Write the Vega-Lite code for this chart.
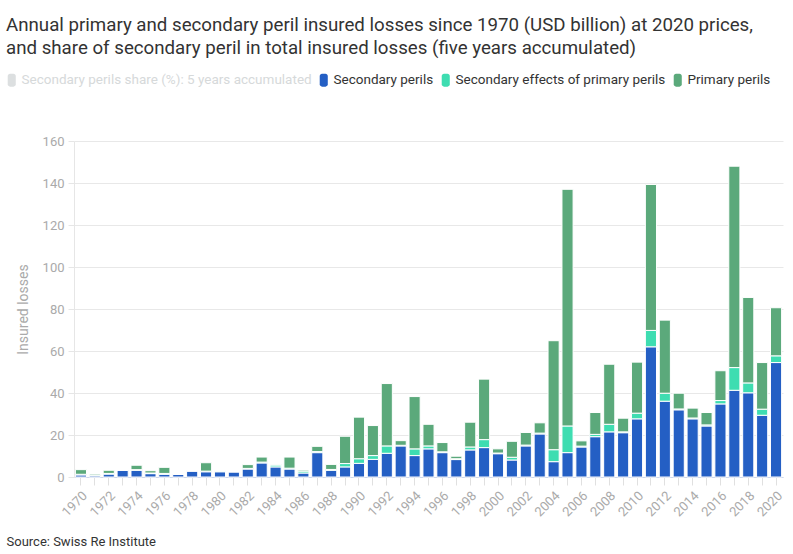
{
  "$schema": "https://vega.github.io/schema/vega-lite/v6.json",
  "width": 709,
  "height": 336,
  "autosize": {"type": "none"},
  "padding": {"left": 74, "top": 141, "right": 10, "bottom": 77},
  "background": "white",
  "title": {
    "text": ["Annual primary and secondary peril insured losses since 1970 (USD billion) at 2020 prices,", "and share of secondary peril in total insured losses (five years accumulated)"],
    "anchor": "start",
    "frame": "group",
    "font": "Roboto",
    "fontSize": 18.7,
    "fontWeight": "normal",
    "color": "#333333",
    "lineHeight": 23.5,
    "dx": -68,
    "offset": 15
  },
  "data": {
    "values": [
      {"year": 1970, "Secondary perils": 1.0, "Secondary effects of primary perils": 0.3, "Primary perils": 2.2},
      {"year": 1971, "Secondary perils": 0.6, "Secondary effects of primary perils": 0.3, "Primary perils": 0.5},
      {"year": 1972, "Secondary perils": 1.4, "Secondary effects of primary perils": 0.3, "Primary perils": 1.5},
      {"year": 1973, "Secondary perils": 3.3, "Secondary effects of primary perils": 0.0, "Primary perils": 0.0},
      {"year": 1974, "Secondary perils": 3.2, "Secondary effects of primary perils": 0.3, "Primary perils": 2.1},
      {"year": 1975, "Secondary perils": 1.6, "Secondary effects of primary perils": 0.3, "Primary perils": 1.1},
      {"year": 1976, "Secondary perils": 1.3, "Secondary effects of primary perils": 0.4, "Primary perils": 2.9},
      {"year": 1977, "Secondary perils": 1.3, "Secondary effects of primary perils": 0.0, "Primary perils": 0.0},
      {"year": 1978, "Secondary perils": 2.9, "Secondary effects of primary perils": 0.0, "Primary perils": 0.0},
      {"year": 1979, "Secondary perils": 2.5, "Secondary effects of primary perils": 0.3, "Primary perils": 4.0},
      {"year": 1980, "Secondary perils": 2.5, "Secondary effects of primary perils": 0.4, "Primary perils": 0.0},
      {"year": 1981, "Secondary perils": 2.5, "Secondary effects of primary perils": 0.0, "Primary perils": 0.0},
      {"year": 1982, "Secondary perils": 3.8, "Secondary effects of primary perils": 0.3, "Primary perils": 1.8},
      {"year": 1983, "Secondary perils": 6.7, "Secondary effects of primary perils": 0.4, "Primary perils": 2.4},
      {"year": 1984, "Secondary perils": 4.8, "Secondary effects of primary perils": 0.9, "Primary perils": 0.3},
      {"year": 1985, "Secondary perils": 3.8, "Secondary effects of primary perils": 0.4, "Primary perils": 5.3},
      {"year": 1986, "Secondary perils": 1.9, "Secondary effects of primary perils": 0.9, "Primary perils": 0.5},
      {"year": 1987, "Secondary perils": 11.6, "Secondary effects of primary perils": 0.5, "Primary perils": 2.5},
      {"year": 1988, "Secondary perils": 3.2, "Secondary effects of primary perils": 0.4, "Primary perils": 2.4},
      {"year": 1989, "Secondary perils": 4.8, "Secondary effects of primary perils": 1.6, "Primary perils": 13.0},
      {"year": 1990, "Secondary perils": 6.5, "Secondary effects of primary perils": 2.2, "Primary perils": 19.8},
      {"year": 1991, "Secondary perils": 8.4, "Secondary effects of primary perils": 1.8, "Primary perils": 14.3},
      {"year": 1992, "Secondary perils": 11.3, "Secondary effects of primary perils": 3.5, "Primary perils": 29.7},
      {"year": 1993, "Secondary perils": 14.8, "Secondary effects of primary perils": 0.3, "Primary perils": 2.2},
      {"year": 1994, "Secondary perils": 10.2, "Secondary effects of primary perils": 3.2, "Primary perils": 24.9},
      {"year": 1995, "Secondary perils": 13.4, "Secondary effects of primary perils": 1.4, "Primary perils": 10.3},
      {"year": 1996, "Secondary perils": 11.6, "Secondary effects of primary perils": 0.4, "Primary perils": 4.4},
      {"year": 1997, "Secondary perils": 8.3, "Secondary effects of primary perils": 0.4, "Primary perils": 1.2},
      {"year": 1998, "Secondary perils": 12.9, "Secondary effects of primary perils": 1.4, "Primary perils": 11.8},
      {"year": 1999, "Secondary perils": 14.0, "Secondary effects of primary perils": 3.8, "Primary perils": 28.8},
      {"year": 2000, "Secondary perils": 11.1, "Secondary effects of primary perils": 0.3, "Primary perils": 2.0},
      {"year": 2001, "Secondary perils": 8.1, "Secondary effects of primary perils": 1.3, "Primary perils": 7.6},
      {"year": 2002, "Secondary perils": 14.8, "Secondary effects of primary perils": 0.4, "Primary perils": 6.0},
      {"year": 2003, "Secondary perils": 20.5, "Secondary effects of primary perils": 0.4, "Primary perils": 4.9},
      {"year": 2004, "Secondary perils": 7.3, "Secondary effects of primary perils": 5.7, "Primary perils": 51.9},
      {"year": 2005, "Secondary perils": 11.6, "Secondary effects of primary perils": 12.7, "Primary perils": 112.7},
      {"year": 2006, "Secondary perils": 14.3, "Secondary effects of primary perils": 0.4, "Primary perils": 2.5},
      {"year": 2007, "Secondary perils": 19.2, "Secondary effects of primary perils": 1.1, "Primary perils": 10.4},
      {"year": 2008, "Secondary perils": 21.5, "Secondary effects of primary perils": 3.6, "Primary perils": 28.6},
      {"year": 2009, "Secondary perils": 21.1, "Secondary effects of primary perils": 0.4, "Primary perils": 6.5},
      {"year": 2010, "Secondary perils": 27.7, "Secondary effects of primary perils": 2.7, "Primary perils": 24.3},
      {"year": 2011, "Secondary perils": 62.0, "Secondary effects of primary perils": 7.8, "Primary perils": 69.5},
      {"year": 2012, "Secondary perils": 36.1, "Secondary effects of primary perils": 3.8, "Primary perils": 34.8},
      {"year": 2013, "Secondary perils": 32.0, "Secondary effects of primary perils": 0.4, "Primary perils": 7.5},
      {"year": 2014, "Secondary perils": 27.7, "Secondary effects of primary perils": 0.4, "Primary perils": 4.7},
      {"year": 2015, "Secondary perils": 24.3, "Secondary effects of primary perils": 0.5, "Primary perils": 5.9},
      {"year": 2016, "Secondary perils": 34.8, "Secondary effects of primary perils": 1.6, "Primary perils": 14.2},
      {"year": 2017, "Secondary perils": 41.3, "Secondary effects of primary perils": 10.8, "Primary perils": 95.9},
      {"year": 2018, "Secondary perils": 40.1, "Secondary effects of primary perils": 4.7, "Primary perils": 40.7},
      {"year": 2019, "Secondary perils": 29.4, "Secondary effects of primary perils": 2.9, "Primary perils": 22.2},
      {"year": 2020, "Secondary perils": 54.5, "Secondary effects of primary perils": 3.2, "Primary perils": 22.9}
    ]
  },
  "transform": [
    {"fold": ["Secondary perils", "Secondary effects of primary perils", "Primary perils"], "as": ["series", "value"]}
  ],
  "mark": {"type": "bar", "stroke": "#ffffff", "strokeWidth": 1},
  "encoding": {
    "x": {
      "field": "year",
      "type": "ordinal",
      "scale": {"paddingInner": 0.2, "paddingOuter": 0.1},
      "axis": {
        "labelExpr": "datum.value % 2 == 0 ? datum.label : ''",
        "labelAngle": -45,
        "labelFont": "Roboto",
        "labelFontSize": 13,
        "labelColor": "#aaaaaa",
        "labelPadding": 4,
        "domainColor": "#ccd6eb",
        "tickColor": "#e0e0e0",
        "tickSize": 8,
        "grid": false,
        "title": "Source: Swiss Re Institute",
        "titleFont": "Roboto",
        "titleFontSize": 13,
        "titleFontWeight": "normal",
        "titleColor": "#333333",
        "titleAlign": "left",
        "titleAnchor": "start",
        "titleBaseline": "alphabetic",
        "titleX": -68,
        "titleY": 68
      }
    },
    "y": {
      "field": "value",
      "type": "quantitative",
      "stack": "zero",
      "scale": {"domain": [0, 160], "nice": false},
      "axis": {
        "values": [0, 20, 40, 60, 80, 100, 120, 140, 160],
        "title": "Insured losses",
        "titleFont": "Roboto",
        "titleFontSize": 14,
        "titleFontWeight": "normal",
        "titleColor": "#aaaaaa",
        "titlePadding": 12,
        "labelFont": "Roboto",
        "labelFontSize": 13,
        "labelColor": "#aaaaaa",
        "labelPadding": 4,
        "gridColor": "#e8e8e8",
        "domainColor": "#e6e6e6",
        "tickColor": "#e6e6e6",
        "tickSize": 6
      }
    },
    "color": {
      "field": "series",
      "type": "nominal",
      "scale": {
        "domain": ["Secondary perils share (%): 5 years accumulated", "Secondary perils", "Secondary effects of primary perils", "Primary perils"],
        "range": ["#dcdfe0", "#245fc4", "#3eddb1", "#5ba97b"]
      },
      "legend": {
        "title": null,
        "orient": "none",
        "legendX": -69,
        "legendY": -68,
        "direction": "horizontal",
        "symbolType": "M-0.27,-1 L0.27,-1 A0.35,0.35 0 0 1 0.62,-0.65 L0.62,0.65 A0.35,0.35 0 0 1 0.27,1 L-0.27,1 A0.35,0.35 0 0 1 -0.62,0.65 L-0.62,-0.65 A0.35,0.35 0 0 1 -0.27,-1 Z",
        "symbolSize": 169,
        "symbolStrokeWidth": 0,
        "labelFont": "Roboto",
        "labelFontSize": 13.5,
        "labelOffset": 3,
        "columnPadding": 5,
        "labelLimit": 400,
        "labelColor": {"expr": "datum.value === 'Secondary perils share (%): 5 years accumulated' ? '#d6d9da' : '#333333'"}
      }
    },
    "order": {"field": "series", "sort": "descending"}
  },
  "config": {
    "view": {"stroke": null},
    "font": "Roboto"
  }
}
